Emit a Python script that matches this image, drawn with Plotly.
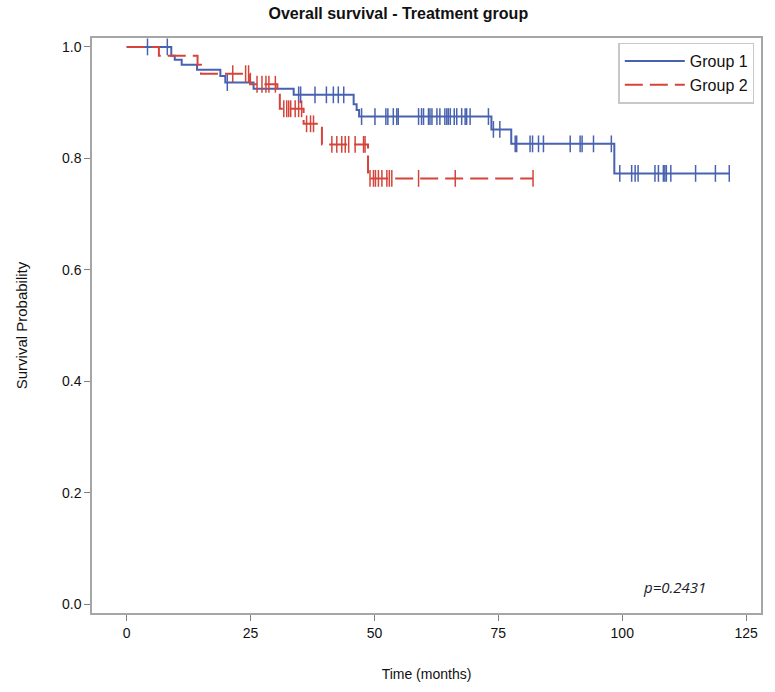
import numpy as np
import plotly.graph_objects as go

# ---- Data ----
g1_event_times = [9.0, 9.7, 11.1, 14.2, 18.9, 19.9, 25.6, 33.7, 45.8, 46.4, 46.9, 73.6, 77.6, 98.4]
g1_surv        = [0.984, 0.977, 0.968, 0.959, 0.948, 0.936, 0.925, 0.914, 0.897, 0.887, 0.875, 0.852, 0.826, 0.773]
g1_end = 121.6
g1_censor = [4.2, 8.2, 20.3, 34.7, 35.1, 38.0, 40.3, 41.7, 42.7, 43.8,
             47.4, 50.1, 52.3, 52.7, 53.8, 54.5, 54.8, 58.9, 59.5, 59.9, 60.9, 61.2, 61.6,
             62.6, 63.2, 64.2, 64.6, 64.9, 65.3, 66.1, 66.6, 67.6, 68.3, 68.6, 69.3, 73.0,
             74.0, 75.3, 78.4, 78.7, 81.4, 81.9, 83.1, 84.1, 89.5, 91.5, 91.9, 94.2, 97.8,
             99.5, 101.9, 102.6, 103.2, 106.6, 107.3, 108.3, 108.6, 108.9, 109.8, 114.8, 118.8, 121.6]

g2_event_times = [6.5, 14.3, 15.0, 24.9, 30.4, 30.9, 35.7, 39.4, 48.7]
g2_surv        = [0.984, 0.968, 0.952, 0.933, 0.918, 0.889, 0.862, 0.825, 0.764]
g2_end = 82.0
g2_censor = [21.4, 24.0, 24.6, 26.3, 27.3, 28.1, 28.7, 30.0,
             31.7, 32.3, 32.7, 33.1, 34.0, 34.7, 35.3, 36.3, 37.1, 37.7,
             41.4, 42.4, 43.4, 44.1, 44.8, 46.1, 47.8, 48.1,
             49.1, 49.8, 50.2, 50.8, 51.5, 52.5, 53.0, 53.5, 58.9, 66.3, 82.0]

group_names = ["Group 1", "Group 2"]
x_ticks = [0, 25, 50, 75, 100, 125]
y_ticks = [0.0, 0.2, 0.4, 0.6, 0.8, 1.0]
p_text = "p=0.2431"

BLUE = "#4862b0"
RED = "#d5443b"
FONT = "Liberation Sans, Arial, sans-serif"


def step_xy(times, surv, end):
    x = [0.0] + list(times) + [end]
    y = [1.0] + list(surv) + [surv[-1]]
    return x, y


def surv_at(times, surv, t):
    times = np.asarray(times)
    idx = np.searchsorted(times, np.asarray(t), side="right")
    levels = np.concatenate([[1.0], surv])
    return levels[idx]


fig = go.Figure()

for name, times, surv, end, cens, color, dash in [
    (group_names[0], g1_event_times, g1_surv, g1_end, g1_censor, BLUE, "solid"),
    (group_names[1], g2_event_times, g2_surv, g2_end, g2_censor, RED, "18px,7px"),
]:
    x, y = step_xy(times, surv, end)
    fig.add_trace(go.Scatter(
        x=x, y=y, mode="lines", name=name,
        line=dict(color=color, width=2, shape="hv", dash=dash),
    ))
    fig.add_trace(go.Scatter(
        x=cens, y=surv_at(times, surv, cens), mode="markers", showlegend=False,
        marker=dict(symbol="line-ns-open", size=12, color=color,
                    line=dict(color=color, width=1.5)),
        hoverinfo="skip",
    ))

fig.add_annotation(
    x=110.5, y=0.03, xref="x", yref="y", text="<i>" + p_text + "</i>",
    showarrow=False, font=dict(family="Open Sans, sans-serif", size=15, color="#1b1b2b"),
)

axis_common = dict(
    showline=True, linecolor="#a6a6a6", linewidth=1.5, mirror=True,
    ticks="outside", ticklen=6, tickcolor="#808080", tickwidth=1,
    showgrid=False, zeroline=False,
    tickfont=dict(family=FONT, size=14, color="#111"),
)

fig.update_layout(
    width=775, height=692,
    margin=dict(l=92, r=12, t=38, b=73),
    paper_bgcolor="white", plot_bgcolor="white",
    title=dict(
        text="<b>Overall survival - Treatment group</b>",
        x=0.514, xref="container", xanchor="center",
        y=0.981, yref="container", yanchor="middle",
        font=dict(family=FONT, size=16, color="#111"),
    ),
    xaxis=dict(
        range=[-7, 128], tickvals=x_ticks, ticktext=[str(v) for v in x_ticks],
        title=dict(text="Time (months)", standoff=30,
                   font=dict(family=FONT, size=14, color="#111")),
        **axis_common,
    ),
    yaxis=dict(
        range=[-0.016, 1.016], tickvals=y_ticks, ticktext=[f"{v:.1f}" for v in y_ticks],
        title=dict(text="Survival Probability", standoff=31,
                   font=dict(family=FONT, size=15, color="#111")),
        **axis_common,
    ),
    legend=dict(
        x=0.99, y=0.992, xanchor="right", yanchor="top",
        bordercolor="#c8c8c8", borderwidth=1.5, bgcolor="white",
        font=dict(family=FONT, size=16, color="#111"),
        itemwidth=60, tracegroupgap=0,
    ),
    showlegend=True,
)

fig.write_html("out.html", config={"displayModeBar": False},
               post_script="document.body.style.margin='0px';")
